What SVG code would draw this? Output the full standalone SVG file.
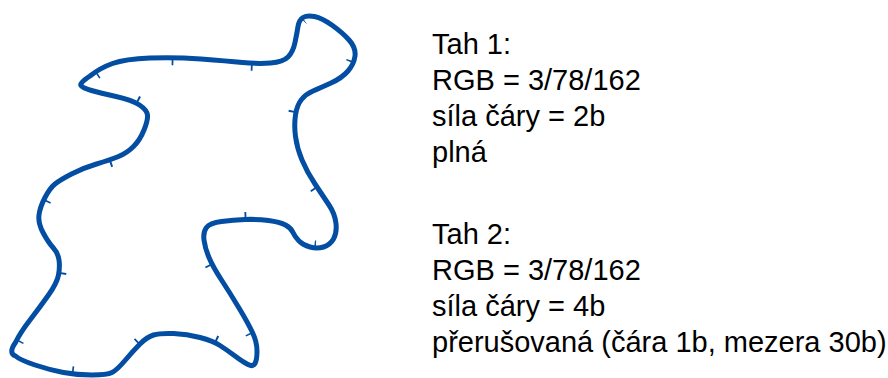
<svg xmlns="http://www.w3.org/2000/svg" xmlns:xlink="http://www.w3.org/1999/xlink" width="888" height="378" viewBox="0 0 888 378">
  <style>
    .tah1 { fill: none; stroke: #034EA2; stroke-width: 5; stroke-linejoin: round; }
    .tah2 { fill: none; stroke: #034EA2; stroke-width: 15; stroke-dasharray: 2.2 97.8; stroke-dashoffset: 74; stroke-linecap: butt; }
    .lbl { font-family: "Liberation Sans", Arial, sans-serif; font-size: 29px; fill: #000; }
  </style>
  <defs>
    <path id="blob" pathLength="1900" d="M 81.5,86 Q 78,84 90,76 Q 100,68 112.5,63.5 Q 125,59 150,58 Q 175,57 201,59 Q 227,61 242.5,62.5 Q 258,64 270.5,63 Q 283,62 288,57 Q 293,52 295,42.5 Q 297,33 298,26.5 Q 299,20 303,17.5 Q 307,15 314.5,16.5 Q 322,18 332.5,25.5 Q 343,33 349.5,40.5 Q 356,48 355,56 Q 354,64 348,71 Q 342,78 331,83 Q 320,88 313,91 Q 306,94 301.5,99.5 Q 297,105 295.5,115 Q 294,125 295.5,136.5 Q 297,148 302,160 Q 307,172 315,184 Q 323,196 329,205 Q 335,214 336,223.5 Q 337,233 333.5,239 Q 330,245 323.5,247 Q 317,249 310,247 Q 303,245 299,241 Q 295,237 293,232.5 Q 291,228 285.5,225 Q 280,222 268.5,220.5 Q 257,219 245,219.5 Q 233,220 221.5,221.5 Q 210,223 206.5,227.5 Q 203,232 204,240 Q 205,248 209,257.5 Q 213,267 221.5,280 Q 230,293 239,308 Q 248,323 252.5,332.5 Q 257,342 257,351 Q 257,360 255,363.5 Q 253,367 248,364.5 Q 243,362 235,356 Q 227,350 220,345.5 Q 213,341 200,337.5 Q 187,334 173.5,333.5 Q 160,333 153.5,335 Q 147,337 140,344 Q 133,351 125,360.5 Q 117,370 112,372.5 Q 107,375 92,375 Q 77,375 63.5,372.5 Q 50,370 35,365 Q 20,360 15.5,356 Q 8,353 15.5,342.5 Q 20,333 30,320 Q 40,307 48.5,295 Q 57,283 58.5,275 Q 60,267 59,260 Q 58,253 53,247.5 Q 48,242 43,232.5 Q 38,223 39,215 Q 40,207 45,197.5 Q 50,188 55,184 Q 60,180 71.5,174 Q 83,168 96.5,164 Q 110,160 118.5,156.5 Q 127,153 133.5,146.5 Q 140,140 144,130 Q 148,120 147.5,115 Q 147,110 139.5,105 Q 132,100 116,96.5 Q 100,93 91.5,90.5 Q 83,88 81.5,86 Z"/>
    <clipPath id="inside">
      <use xlink:href="#blob"/>
    </clipPath>
  </defs>
  <g id="shape">
    <use xlink:href="#blob" class="tah1"/>
    <use xlink:href="#blob" class="tah2" clip-path="url(#inside)"/>
  </g>
  <g id="legend1">
    <text class="lbl" x="432" y="54">Tah 1:</text>
    <text class="lbl" x="432" y="90">RGB = 3/78/162</text>
    <text class="lbl" x="432" y="126">síla čáry = 2b</text>
    <text class="lbl" x="432" y="162">plná</text>
  </g>
  <g id="legend2">
    <text class="lbl" x="432" y="244">Tah 2:</text>
    <text class="lbl" x="432" y="280">RGB = 3/78/162</text>
    <text class="lbl" x="432" y="316">síla čáry = 4b</text>
    <text class="lbl" x="432" y="352">přerušovaná (čára 1b, mezera 30b)</text>
  </g>
</svg>
